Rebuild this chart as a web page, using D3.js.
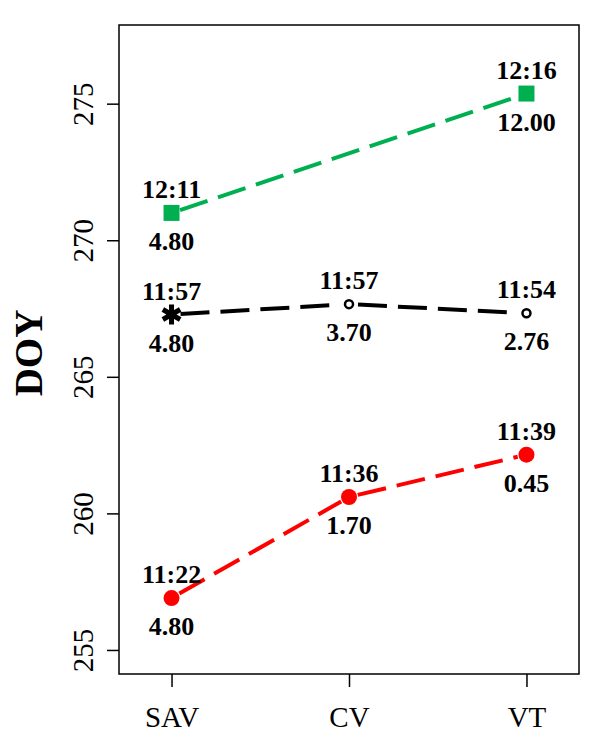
<!DOCTYPE html>
<html>
<head>
<meta charset="utf-8">
<script src="https://cdn.jsdelivr.net/npm/d3@7"></script>
<style>
  body { margin: 0; background: #fff; }
  svg { display: block; }
</style>
</head>
<body>
<svg id="chart" width="600" height="747"></svg>
<script>
// categories on the x axis
const categories = ['SAV', 'CV', 'VT'];
const yTicks = [255, 260, 265, 270, 275];

// DOY values per series (null = no point)
const greenDOY = [271.0, null, 275.37];
const blackDOY = [267.28, 267.66, 267.33];
const redDOY = [256.9, 260.6, 262.15];

// labels above (time) and below (value) each point
const greenTime = ['12:11', null, '12:16'];
const greenVal = ['4.80', null, '12.00'];
const blackTime = ['11:57', '11:57', '11:54'];
const blackVal = ['4.80', '3.70', '2.76'];
const redTime = ['11:22', '11:36', '11:39'];
const redVal = ['4.80', '1.70', '0.45'];

const series = [
  { doy: greenDOY, time: greenTime, val: greenVal, color: '#00b050', marker: 'square' },
  { doy: blackDOY, time: blackTime, val: blackVal, color: '#000', marker: ['star', 'circle', 'circle'] },
  { doy: redDOY, time: redTime, val: redVal, color: '#ff0000', marker: 'dot' }
];

const width = 600, height = 747;
const box = { left: 119, right: 579, top: 25, bottom: 674 };
const serif = '"Liberation Serif", "Times New Roman", serif';

const svg = d3.select('#chart');

// R style: 4% extension around ylim 255..277 and xlim 0.8..3.2
const x = d3.scaleLinear()
  .domain([0.8 - 0.096, 3.2 + 0.096])
  .range([box.left, box.right]);

const y = d3.scaleLinear()
  .domain([255 - 0.88, 277 + 0.88])
  .range([box.bottom, box.top]);

// plot frame
svg.append('rect')
  .attr('x', box.left)
  .attr('y', box.top)
  .attr('width', box.right - box.left)
  .attr('height', box.bottom - box.top)
  .attr('fill', 'none')
  .attr('stroke', '#000')
  .attr('stroke-width', 1.5);

// x axis
const xAxis = svg.append('g')
  .attr('transform', `translate(0,${box.bottom})`)
  .call(d3.axisBottom(x)
    .tickValues([1, 2, 3])
    .tickFormat(d => categories[d - 1])
    .tickSize(13));
xAxis.select('.domain').remove();
xAxis.selectAll('line').attr('stroke-width', 1.5);
xAxis.selectAll('text')
  .attr('font-family', serif)
  .attr('font-size', 29)
  .attr('fill', '#000')
  .attr('dy', null)
  .attr('y', 53);

// y axis
const yAxis = svg.append('g')
  .attr('transform', `translate(${box.left},0)`)
  .call(d3.axisLeft(y).tickValues(yTicks).tickSize(12));
yAxis.select('.domain').remove();
yAxis.selectAll('line').attr('stroke-width', 1.5);
yAxis.selectAll('text')
  .attr('font-family', serif)
  .attr('font-size', 29)
  .attr('fill', '#000')
  .attr('x', null)
  .attr('dy', null)
  .attr('text-anchor', 'middle')
  .attr('transform', 'translate(-26,0) rotate(-90)');

// y axis title
svg.append('text')
  .attr('transform', `translate(42,353) rotate(-90)`)
  .attr('text-anchor', 'middle')
  .attr('font-family', serif)
  .attr('font-weight', 'bold')
  .attr('font-size', 39)
  .text('DOY');

const gap = 9;
const markerOf = (s, i) => Array.isArray(s.marker) ? s.marker[i] : s.marker;

series.forEach(s => {
  const pts = s.doy
    .map((v, i) => v == null ? null : { i, px: x(i + 1), py: y(v) })
    .filter(Boolean);

  // dashed segments, trimmed near points like type = "b"
  const segs = d3.pairs(pts);
  svg.append('g').selectAll('line')
    .data(segs)
    .join('line')
    .each(function ([a, b]) {
      const dx = b.px - a.px, dy = b.py - a.py;
      const len = Math.hypot(dx, dy);
      const ux = dx / len, uy = dy / len;
      d3.select(this)
        .attr('x1', a.px + ux * gap)
        .attr('y1', a.py + uy * gap)
        .attr('x2', b.px - ux * gap)
        .attr('y2', b.py - uy * gap);
    })
    .attr('stroke', s.color)
    .attr('stroke-width', 4)
    .attr('stroke-dasharray', '29,11');

  // markers
  pts.forEach(p => {
    const m = markerOf(s, p.i);
    if (m === 'square') {
      svg.append('path')
        .attr('transform', `translate(${p.px},${p.py})`)
        .attr('d', d3.symbol(d3.symbolSquare, 16 * 16)())
        .attr('fill', s.color);
    } else if (m === 'dot') {
      svg.append('circle')
        .attr('cx', p.px).attr('cy', p.py).attr('r', 8)
        .attr('fill', s.color);
    } else if (m === 'circle') {
      svg.append('circle')
        .attr('cx', p.px).attr('cy', p.py).attr('r', 4)
        .attr('fill', '#fff')
        .attr('stroke', s.color)
        .attr('stroke-width', 2.5);
    } else if (m === 'star') {
      const arm = 10;
      const path = d3.path();
      [90, 30, 150].forEach(a => {
        const r = a * Math.PI / 180;
        path.moveTo(p.px - Math.cos(r) * arm, p.py - Math.sin(r) * arm);
        path.lineTo(p.px + Math.cos(r) * arm, p.py + Math.sin(r) * arm);
      });
      svg.append('path')
        .attr('d', path.toString())
        .attr('stroke', s.color)
        .attr('stroke-width', 5)
        .attr('fill', 'none');
    }

    // time above, value below
    svg.append('text')
      .attr('x', p.px).attr('y', p.py - 15)
      .attr('text-anchor', 'middle')
      .attr('font-family', serif)
      .attr('font-weight', 'bold')
      .attr('font-size', 26)
      .text(s.time[p.i]);

    svg.append('text')
      .attr('x', p.px).attr('y', p.py + 37)
      .attr('text-anchor', 'middle')
      .attr('font-family', serif)
      .attr('font-weight', 'bold')
      .attr('font-size', 26)
      .text(s.val[p.i]);
  });
});
</script>
</body>
</html>
